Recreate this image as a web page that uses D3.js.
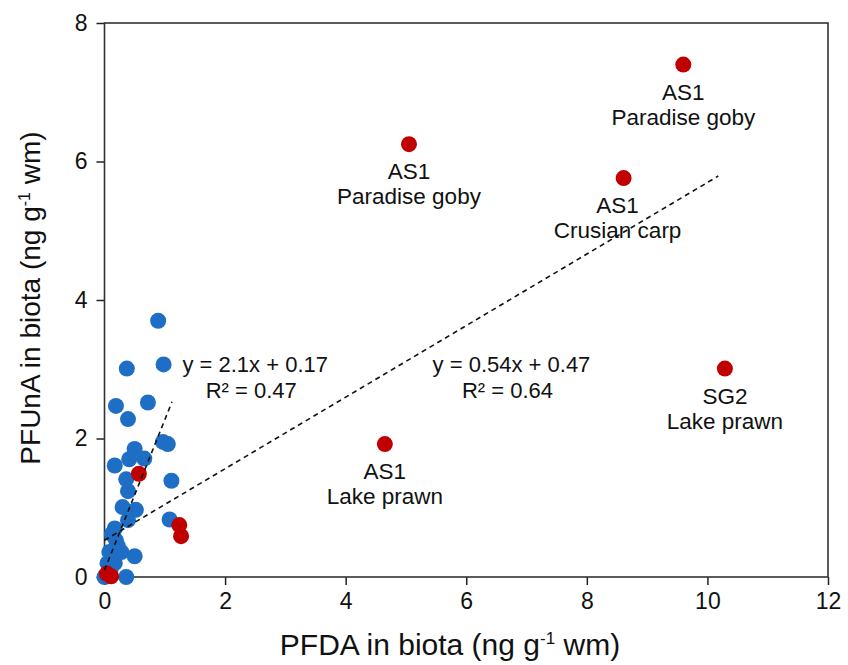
<!DOCTYPE html>
<html>
<head>
<meta charset="utf-8">
<script src="https://cdn.jsdelivr.net/npm/d3@7/dist/d3.min.js"></script>
<style>
  body { margin: 0; background: #fff; }
  text { font-family: Arial, "Liberation Sans", sans-serif; fill: #111; }
</style>
</head>
<body>
<div id="chart"></div>
<script>
var w = 848;
var h = 665;

// blue samples (PFDA, PFUnA)
var blueX = [0.89, 0.98, 0.37, 0.19, 0.72, 0.39, 0.97, 1.05, 0.50, 0.41, 0.66, 0.17, 0.36, 1.11, 0.39,
             0.30, 0.52, 0.39, 1.08, 0.17, 0.12, 0.19, 0.08, 0.28, 0.50, 0.05, 0.17, 0.00, 0.36, 0.22, 0.10];
var blueY = [3.70, 3.07, 3.01, 2.47, 2.52, 2.28, 1.95, 1.92, 1.85, 1.70, 1.71, 1.61, 1.41, 1.39, 1.24,
             1.01, 0.97, 0.82, 0.83, 0.70, 0.62, 0.53, 0.36, 0.36, 0.30, 0.20, 0.20, 0.00, 0.00, 0.45, 0.10];

// red samples, some of them labelled with site + species
var redX = [9.60, 5.05, 8.61, 10.29, 4.65, 0.57, 1.24, 1.27, 0.04, 0.11];
var redY = [7.40, 6.25, 5.76, 3.01, 1.92, 1.49, 0.75, 0.59, 0.05, 0.01];
var redSite = ['AS1', 'AS1', 'AS1', 'SG2', 'AS1', '', '', '', '', ''];
var redSpecies = ['Paradise goby', 'Paradise goby', 'Crusian carp', 'Lake prawn', 'Lake prawn', '', '', '', '', ''];

// trend lines (start / end as drawn) and their equations
var fitX0 = [0, 0];
var fitY0 = [0.10, 0.53];
var fitX1 = [1.12, 10.18];
var fitY1 = [2.53, 5.79];
var fitEq = ['y = 2.1x + 0.17', 'y = 0.54x + 0.47'];
var fitR2 = ['R² = 0.47', 'R² = 0.64'];

var xTicks = [0, 2, 4, 6, 8, 10, 12];
var yTicks = [0, 2, 4, 6, 8];

var svg = d3.select('#chart')
  .append('svg')
    .attr('width', w)
    .attr('height', h);

// scales
var x = d3.scaleLinear()
  .domain([0, 12])
  .range([104.5, 828]);

var y = d3.scaleLinear()
  .domain([0, 8])
  .range([577, 23]);

// axes
var xAxis = d3.axisBottom(x)
  .tickValues(xTicks)
  .tickSize(8)
  .tickPadding(8)
  .tickSizeOuter(0);

var yAxis = d3.axisLeft(y)
  .tickValues(yTicks)
  .tickSize(8)
  .tickPadding(9)
  .tickSizeOuter(0);

svg.append('g')
  .attr('transform', 'translate(0, ' + y(0) + ')')
  .call(xAxis)
  .call(function(g) { g.select('.domain').remove(); })
  .selectAll('text')
    .style('font-size', '23px')
    .style('font-family', 'Arial, "Liberation Sans", sans-serif')
    .attr('fill', '#111');

svg.append('g')
  .attr('transform', 'translate(' + x(0) + ', 0)')
  .call(yAxis)
  .call(function(g) { g.select('.domain').remove(); })
  .selectAll('text')
    .style('font-size', '23px')
    .style('font-family', 'Arial, "Liberation Sans", sans-serif')
    .attr('fill', '#111');

svg.selectAll('.tick line')
  .attr('stroke', '#222')
  .attr('stroke-width', 1.5);

// frame
svg.append('rect')
  .attr('x', x(0))
  .attr('y', y(8))
  .attr('width', x(12) - x(0))
  .attr('height', y(0) - y(8))
  .attr('fill', 'none')
  .attr('stroke', '#333')
  .attr('stroke-width', 1.6);

// points
var blue = d3.range(blueX.length).map(function(i) { return { x: blueX[i], y: blueY[i] }; });
var red = d3.range(redX.length).map(function(i) {
  return { x: redX[i], y: redY[i], site: redSite[i], species: redSpecies[i] };
});

svg.append('g').selectAll('circle')
  .data(blue)
  .enter()
  .append('circle')
    .attr('cx', function(d) { return x(d.x); })
    .attr('cy', function(d) { return y(d.y); })
    .attr('r', 8)
    .attr('fill', '#1f6ec6');

svg.append('g').selectAll('circle')
  .data(red)
  .enter()
  .append('circle')
    .attr('cx', function(d) { return x(d.x); })
    .attr('cy', function(d) { return y(d.y); })
    .attr('r', 8)
    .attr('fill', '#c00000');

// trend lines
svg.append('g').selectAll('line')
  .data(fitX0)
  .enter()
  .append('line')
    .attr('x1', function(d, i) { return x(fitX0[i]); })
    .attr('y1', function(d, i) { return y(fitY0[i]); })
    .attr('x2', function(d, i) { return x(fitX1[i]); })
    .attr('y2', function(d, i) { return y(fitY1[i]); })
    .attr('stroke', '#111')
    .attr('stroke-width', 1.6)
    .attr('stroke-dasharray', '5,4');

// point labels
var nudge = { 'Crusian carp': -6 }; // excel put this one a bit left
var lab = svg.append('g').selectAll('g')
  .data(red.filter(function(d) { return d.site; }))
  .enter()
  .append('g')
    .attr('transform', function(d) {
      return 'translate(' + (x(d.x) + (nudge[d.species] || 0)) + ', ' + y(d.y) + ')';
    });

lab.append('text')
  .attr('y', 35)
  .attr('text-anchor', 'middle')
  .style('font-size', '22.5px')
  .text(function(d) { return d.site; });

lab.append('text')
  .attr('y', 60)
  .attr('text-anchor', 'middle')
  .style('font-size', '22.5px')
  .text(function(d) { return d.species; });

// equation labels
var eqPos = [[2.5, 2.96], [6.75, 2.96]];
fitEq.forEach(function(t, i) {
  svg.append('text')
    .attr('x', x(eqPos[i][0]))
    .attr('y', y(eqPos[i][1]))
    .attr('text-anchor', 'middle')
    .style('font-size', '22px')
    .text(t);
  svg.append('text')
    .attr('x', x(eqPos[i][0]) - 4)
    .attr('y', y(eqPos[i][1]) + 26)
    .attr('text-anchor', 'middle')
    .style('font-size', '22px')
    .text(fitR2[i]);
});

// axis titles
var xTitle = svg.append('text')
  .attr('x', 450)
  .attr('y', 655)
  .attr('text-anchor', 'middle')
  .style('font-size', '30px');
xTitle.append('tspan').text('PFDA in biota (ng g');
xTitle.append('tspan').attr('dy', -11).style('font-size', '17px').text('-1');
xTitle.append('tspan').attr('dy', 11).text(' wm)');

var yTitle = svg.append('text')
  .attr('transform', 'translate(40, 298) rotate(-90)')
  .attr('text-anchor', 'middle')
  .style('font-size', '28px');
yTitle.append('tspan').text('PFUnA in biota (ng g');
yTitle.append('tspan').attr('dy', -10).style('font-size', '16px').text('-1');
yTitle.append('tspan').attr('dy', 10).text(' wm)');
</script>
</body>
</html>
